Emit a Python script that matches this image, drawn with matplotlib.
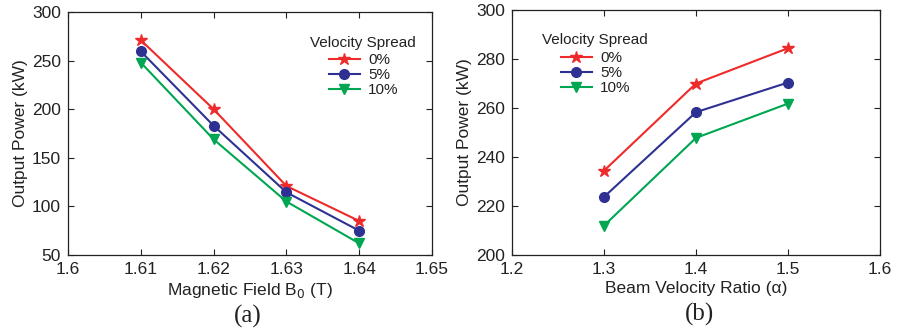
import matplotlib
matplotlib.use("Agg")
from matplotlib import pyplot as plt

# panel (a): output power vs magnetic field
b_field = [1.61, 1.62, 1.63, 1.64]
power_a_0 = [271, 200, 121, 85]
power_a_5 = [259.5, 183, 114.5, 75]
power_a_10 = [248, 169, 105, 62]

# panel (b): output power vs beam velocity ratio
alpha = [1.3, 1.4, 1.5]
power_b_0 = [234.4, 270, 284.4]
power_b_5 = [223.7, 258.3, 270.4]
power_b_10 = [212, 247.8, 261.8]

spread_labels = ["0%", "5%", "10%"]
colors = ["#ee2a2a", "#2e3192", "#00a651"]
markers = ["*", "o", "v"]
msizes = [9, 7, 7]

plt.rcParams['font.family'] = ['Liberation Sans', 'DejaVu Sans']

fig = plt.figure(figsize=(8.98, 3.34), dpi=100)
W, H = 898, 334
ax1 = fig.add_axes([68 / W, 1 - 255 / H, (432 - 68) / W, (255 - 12) / H])
ax2 = fig.add_axes([512 / W, 1 - 255 / H, (880 - 512) / W, (255 - 10) / H])
txt = '#222222'


def style(ax):
    ax.tick_params(direction='in', top=True, right=True, labelsize=12.5,
                   length=4, width=0.8, colors=txt, pad=5)
    for s in ax.spines.values():
        s.set_linewidth(0.9)
        s.set_color(txt)


def add_legend(ax, title_x, title_y, hx, top_y):
    fig.text(title_x / W, 1 - title_y / H, "Velocity Spread", fontsize=11,
             ha='left', va='center', color=txt)
    ax.legend(frameon=False, fontsize=11, loc='upper left',
              bbox_to_anchor=(hx / W, 1 - top_y / H), bbox_transform=fig.transFigure,
              borderpad=0, borderaxespad=0, handlelength=2.0, labelspacing=0.08,
              handletextpad=0.55, labelcolor=txt)


for ys, c, m, ms, lab in zip([power_a_0, power_a_5, power_a_10], colors, markers, msizes, spread_labels):
    ax1.plot(b_field, ys, color=c, marker=m, markersize=ms, linewidth=1.5, label=lab)
ax1.set_xlim(1.6, 1.65)
ax1.set_ylim(50, 300)
ax1.set_xticks([1.6, 1.61, 1.62, 1.63, 1.64, 1.65])
ax1.set_xticklabels(["1.6", "1.61", "1.62", "1.63", "1.64", "1.65"])
ax1.set_yticks([50, 100, 150, 200, 250, 300])
ax1.set_xlabel("Magnetic Field B$_0$ (T)", fontsize=12.5, color=txt, labelpad=3)
ax1.set_ylabel("Output Power (kW)", fontsize=12.5, color=txt, labelpad=3)
style(ax1)
add_legend(ax1, 310, 43, 329, 53)

for ys, c, m, ms, lab in zip([power_b_0, power_b_5, power_b_10], colors, markers, msizes, spread_labels):
    ax2.plot(alpha, ys, color=c, marker=m, markersize=ms, linewidth=1.5, label=lab)
ax2.set_xlim(1.2, 1.6)
ax2.set_ylim(200, 300)
ax2.set_xticks([1.2, 1.3, 1.4, 1.5, 1.6])
ax2.set_yticks([200, 220, 240, 260, 280, 300])
ax2.set_xlabel("Beam Velocity Ratio (\u03b1)", fontsize=12.5, color=txt, labelpad=3)
ax2.set_ylabel("Output Power (kW)", fontsize=12.5, color=txt, labelpad=3)
style(ax2)
add_legend(ax2, 542, 40, 561, 51)

fig.text(248 / W, 1 - 316 / H, "(a)", family='Liberation Serif', fontsize=18,
         ha='center', va='center', color=txt)
fig.text(699 / W, 1 - 314 / H, "(b)", family='Liberation Serif', fontsize=18,
         ha='center', va='center', color=txt)

fig.savefig("out.png", dpi=100)
